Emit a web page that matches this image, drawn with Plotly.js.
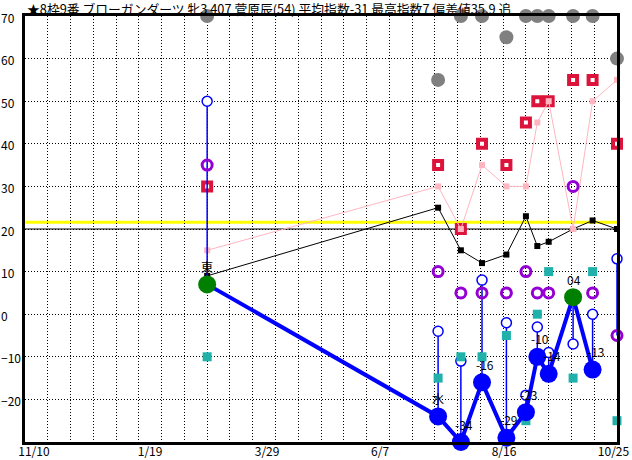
<!DOCTYPE html>
<html><head><meta charset="utf-8">
<script src="https://cdn.plot.ly/plotly-3.0.1.min.js"></script>
<style>html,body{margin:0;padding:0;background:#fff}</style>
</head><body><div id="chart" style="width:632px;height:460px"></div>
<script>
const titleText = "★8枠9番 ブローガンダーツ 牝3 407 菅原辰(54) 平均指数-31 最高指数7 偏差値35.9 追";
const raceDates = ['2024-02-16','2024-07-07','2024-07-21','2024-08-03','2024-08-18','2024-08-30','2024-09-06','2024-09-13','2024-09-28','2024-10-10','2024-10-25'];
const grayValues   = [70, 55, 70, 70, 65, 70, 70, 70, 70, 70, 60];
const redValues    = [30, 35, 20, 40, 35, 45, 50, 50, 55, 55, 40];
const pinkValues   = [15, 30, 20, 35, 30, 30, 45, 50, 20, 50, 55];
const blackValues  = [9, 25, 15, 12, 14, 23, 16, 17, 20, 22, 20];
const purpleValues = [35, 10, 5, 5, 5, 10, 5, 5, 30, 5, -5];
const tealValues   = [-10, -15, -10, -10, -5, -25, 0, 10, -15, 10, -25];
const blueOpenValues = [50, -4, -11, 8, -2, -19, -3, -9, -7, 0, 13];
const indexValues  = [7, -24, -34, -16, -29, -23, -10, -14, 4, -13];
const indexLabels  = ['東', '水', '-34', '-16', '-29', '-23', '-10', '-14', '04', '-13'];
const pendingStemEnd = -5;
const avgLineValue = 21.6;
const baseLineValue = 20;
const xRange = ['2023-10-27', '2024-10-25'];
const xTickDates = ['2023-11-01 12:00','2024-01-11 22:00','2024-03-23 20:00','2024-06-01 08:00','2024-08-16 12:00','2024-10-22 20:00'];
const xTickText = ['11/10', '1/19', '3/29', '6/7', '8/16', '10/25'];
const yTickValues = [70, 60, 50, 40, 30, 20, 10, 0, -10, -20];
const yMin = -30, yMax = 70;

const FONT = '"Noto Sans CJK JP", "Noto Sans", sans-serif';
const clamp = v => Math.max(yMin, Math.min(yMax, v));
const indexPlot = indexValues.map(clamp);

// stems from open blue circle to index point
const stemX = [], stemY = [];
raceDates.forEach((d, i) => {
  const end = i < indexPlot.length ? indexPlot[i] : pendingStemEnd;
  stemX.push(d, d, null);
  stemY.push(blueOpenValues[i], end, null);
});

const traces = [
  {x: raceDates, y: grayValues, mode: 'markers', cliponaxis: false,
   marker: {symbol: 'circle', size: 14, color: '#808080'}},
  {x: raceDates, y: blackValues, mode: 'lines+markers', cliponaxis: false,
   line: {color: '#000', width: 1}, marker: {symbol: 'square', size: 6, color: '#000'}},
  {x: raceDates, y: redValues, mode: 'markers', cliponaxis: false,
   marker: {symbol: 'square', size: 8, color: '#fff', line: {color: '#DC143C', width: 4}}},
  {x: raceDates, y: pinkValues, mode: 'lines+markers', cliponaxis: false,
   line: {color: '#FFB6C1', width: 1}, marker: {symbol: 'square', size: 6, color: '#FFB6C1'}},
  {x: stemX, y: stemY, mode: 'lines', cliponaxis: false,
   line: {color: '#0000FF', width: 1.5}},
  {x: raceDates, y: blueOpenValues, mode: 'markers', cliponaxis: false,
   marker: {symbol: 'circle', size: 10, color: '#fff', line: {color: '#0000FF', width: 1.5}}},
  {x: raceDates, y: purpleValues, mode: 'markers', cliponaxis: false,
   marker: {symbol: 'circle-open', size: 10, color: '#9400D3', line: {color: '#9400D3', width: 3}}},
  {x: raceDates, y: tealValues, mode: 'markers', cliponaxis: false,
   marker: {symbol: 'square', size: 9, color: '#20B2AA'}},
  {x: raceDates.slice(0, indexPlot.length), y: indexPlot, mode: 'lines+markers', cliponaxis: false,
   line: {color: '#0000FF', width: 4},
   marker: {symbol: 'circle', size: 18, color: indexValues.map(v => v >= 0 ? '#008000' : '#0000FF')}}
];

const annotations = [];
yTickValues.forEach(v => annotations.push({
  xref: 'paper', x: 0, xshift: -26, xanchor: 'left', yref: 'y', y: v, yshift: -1,
  text: String(v).replace('-', '\u2212'), showarrow: false, font: {family: FONT, size: 12, color: '#000'}
}));
indexLabels.forEach((t, i) => annotations.push({
  xref: 'x', x: raceDates[i], xanchor: 'left', xshift: -8, yref: 'y', y: indexPlot[i], yshift: 18,
  text: t, showarrow: false, font: {family: FONT, size: 12, color: '#000'}
}));

const layout = {
  width: 632, height: 460,
  margin: {l: 25, r: 15, t: 16, b: 18, pad: 0},
  paper_bgcolor: '#fff', plot_bgcolor: '#fff',
  showlegend: false,
  title: {text: titleText, x: 27/632, xref: 'container', xanchor: 'left',
          y: 1 - 10/460, yref: 'container', yanchor: 'middle',
          font: {family: FONT, size: 12.8, color: '#000'}},
  xaxis: {type: 'date', range: xRange, tickmode: 'array', tickvals: xTickDates, ticktext: xTickText,
          showgrid: false, zeroline: false, ticks: '', showline: true, linewidth: 3, linecolor: '#000', mirror: true,
          ticklabelstandoff: -3,
          tickfont: {family: FONT, size: 12, color: '#000'},
          minor: {tick0: xRange[0], dtick: 14*86400000, showgrid: true, gridcolor: '#000', gridwidth: 1, griddash: '1px,2px', ticks: ''}},
  yaxis: {range: [yMin, yMax], tickmode: 'array', tickvals: yTickValues, showticklabels: false,
          showgrid: true, gridcolor: '#000', gridwidth: 1, griddash: '1px,2px',
          zeroline: false, ticks: '', showline: true, linewidth: 3, linecolor: '#000', mirror: true},
  shapes: [
    {type: 'line', layer: 'below', xref: 'paper', x0: 0, x1: 1, yref: 'y', y0: avgLineValue, y1: avgLineValue,
     line: {color: '#FFFF00', width: 3}},
    {type: 'line', layer: 'below', xref: 'paper', x0: 0, x1: 1, yref: 'y', y0: baseLineValue, y1: baseLineValue,
     line: {color: '#000', width: 1}}
  ],
  annotations: annotations
};

Plotly.newPlot('chart', traces, layout, {staticPlot: true, displayModeBar: false});
</script>
</body></html>
